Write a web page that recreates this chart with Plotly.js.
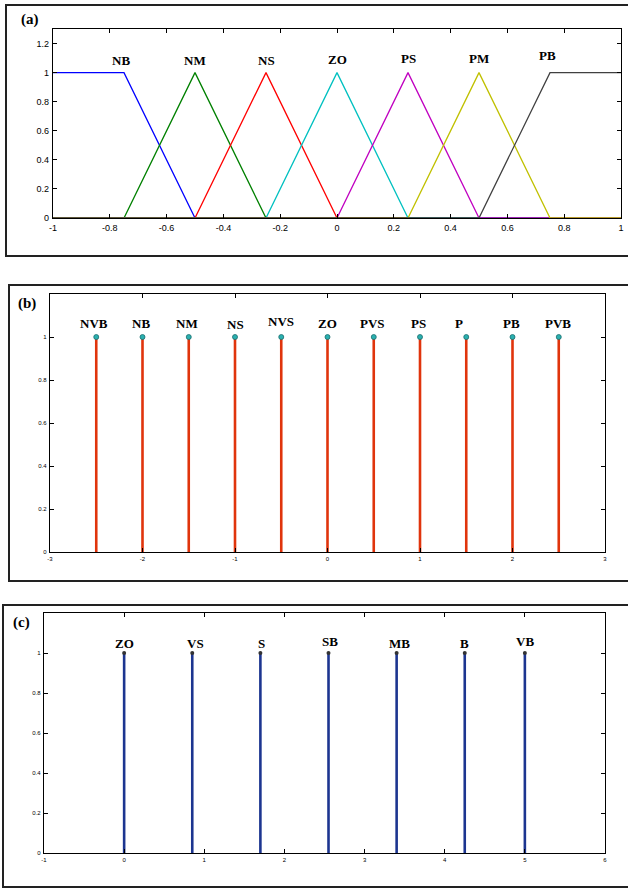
<!DOCTYPE html>
<html>
<head>
<meta charset="utf-8">
<script src="https://cdn.plot.ly/plotly-3.0.1.min.js"></script>
<style>html,body{margin:0;padding:0;background:#fff;}#chart{width:628px;height:889px;}</style>
</head>
<body>
<div id="chart"></div>
<script>
// ---------- Panel (a): membership functions ----------
const mfNames = ['NB','NM','NS','ZO','PS','PM','PB'];
const mfX = [
  [-1,-0.75,-0.5,1],
  [-1,-0.75,-0.5,-0.25,1],
  [-1,-0.5,-0.25,0,1],
  [-1,-0.25,0,0.25,1],
  [-1,0,0.25,0.5,1],
  [-1,0.25,0.5,0.75,1],
  [-1,0.5,0.75,1]
];
const mfY = [
  [1,1,0,0],
  [0,0,1,0,0],
  [0,0,1,0,0],
  [0,0,1,0,0],
  [0,0,1,0,0],
  [0,0,1,0,0],
  [0,0,1,1]
];
const mfColors = ['#0000ff','#008000','#ff0000','#00c0c0','#c000c0','#c0c000','#404040'];
const mfLabelX = [-0.76,-0.5,-0.25,0,0.25,0.5,0.74];
const mfLabelY = [1.08,1.08,1.08,1.09,1.10,1.10,1.12];
const aXTicks = [-1,-0.8,-0.6,-0.4,-0.2,0,0.2,0.4,0.6,0.8,1];
const aYTicks = [0,0.2,0.4,0.6,0.8,1,1.2];

// ---------- Panel (b): singletons ----------
const bNames = ['NVB','NB','NM','NS','NVS','ZO','PVS','PS','P','PB','PVB'];
const bX = [-2.5,-2,-1.5,-1,-0.5,0,0.5,1,1.5,2,2.5];
const bY = [1,1,1,1,1,1,1,1,1,1,1];
const bLabelX = [-2.52,-2.02,-1.52,-1.0,-0.5,0,0.49,0.98,1.42,1.99,2.49];
const bLabelY = [1.065,1.065,1.065,1.06,1.07,1.065,1.065,1.065,1.065,1.065,1.065];
const bXTicks = [-3,-2,-1,0,1,2,3];
const bYTicks = [0,0.2,0.4,0.6,0.8,1];

// ---------- Panel (c): singletons ----------
const cNames = ['ZO','VS','S','SB','MB','B','VB'];
const cX = [0,0.85,1.7,2.55,3.4,4.25,5];
const cY = [1,1,1,1,1,1,1];
const cLabelX = [0.01,0.89,1.71,2.57,3.44,4.25,5.0];
const cLabelY = [1.05,1.05,1.05,1.06,1.05,1.05,1.06];
const cXTicks = [-1,0,1,2,3,4,5,6];
const cYTicks = [0,0.2,0.4,0.6,0.8,1];

const W = 628, H = 889;
const px = v => v / W;
const py = v => 1 - v / H;

function stems(xs, ys) {
  const x = [], y = [];
  xs.forEach((v, i) => { x.push(v, v, null); y.push(0, ys[i], null); });
  return {x, y};
}

const traces = [];
mfNames.forEach((n, i) => {
  traces.push({type:'scatter', mode:'lines', x: mfX[i], y: mfY[i], name: n,
    line:{color: mfColors[i], width:1.3}, xaxis:'x', yaxis:'y', hoverinfo:'skip'});
});
const sb = stems(bX, bY);
traces.push({type:'scatter', mode:'lines', x: sb.x, y: sb.y, line:{color:'#e0340c', width:2.6},
  xaxis:'x2', yaxis:'y2', hoverinfo:'skip'});
traces.push({type:'scatter', mode:'markers', x: bX, y: bY,
  marker:{color:'#2ab0b0', size:5, line:{color:'#1a6f6f', width:0.8}}, xaxis:'x2', yaxis:'y2', hoverinfo:'skip'});
const sc = stems(cX, cY);
traces.push({type:'scatter', mode:'lines', x: sc.x, y: sc.y, line:{color:'#1c3590', width:2.6},
  xaxis:'x3', yaxis:'y3', hoverinfo:'skip'});
traces.push({type:'scatter', mode:'markers', x: cX, y: cY,
  marker:{color:'#333', size:4, symbol:'circle'}, xaxis:'x3', yaxis:'y3', hoverinfo:'skip'});

const tickFontA = {family:'Liberation Sans, Arial, sans-serif', size:9, color:'#000'};
const tickFontS = {family:'Liberation Sans, Arial, sans-serif', size:6, color:'#000'};
function ax(domain, range, ticks, font, anchor, fmt) {
  return {domain, range, tickmode:'array', tickvals: ticks, ticktext: ticks.map(fmt || String),
    showline:true, linecolor:'#000', linewidth:1.2, mirror:'ticks', ticks:'inside', ticklen:4,
    tickcolor:'#000', tickwidth:1, showgrid:false, zeroline:false, tickfont: font, anchor,
    fixedrange:true, ticklabelstandoff:1};
}

const labelFont = {family:'Liberation Serif, Times New Roman, serif', size:13, color:'#000', weight:'bold'};
const annotations = [];
mfNames.forEach((n, i) => annotations.push({x: mfLabelX[i], y: mfLabelY[i], xref:'x', yref:'y', text:'<b>'+n+'</b>',
  showarrow:false, font: labelFont, xanchor:'center', yanchor:'middle'}));
bNames.forEach((n, i) => annotations.push({x: bLabelX[i], y: bLabelY[i], xref:'x2', yref:'y2', text:'<b>'+n+'</b>',
  showarrow:false, font: labelFont, xanchor:'center', yanchor:'middle'}));
cNames.forEach((n, i) => annotations.push({x: cLabelX[i], y: cLabelY[i], xref:'x3', yref:'y3', text:'<b>'+n+'</b>',
  showarrow:false, font: labelFont, xanchor:'center', yanchor:'middle'}));
const panelFont = {family:'Liberation Serif, Times New Roman, serif', size:15, color:'#000', weight:'bold'};
[['(a)',30,20],['(b)',27,303],['(c)',21,622]].forEach(p => annotations.push({
  x: px(p[1]), y: py(p[2]), xref:'paper', yref:'paper', text:'<b>'+p[0]+'</b>', showarrow:false,
  font: panelFont, xanchor:'center', yanchor:'middle'}));

const boxes = [[6,5,256,'#222'],[9,285,581,'#222'],[3,605,887,'#222']].map(b => ({
  type:'rect', xref:'paper', yref:'paper', x0: px(b[0]), x1: px(640), y0: py(b[2]), y1: py(b[1]),
  line:{color:b[3], width:2}, fillcolor:'rgba(0,0,0,0)', layer:'below'}));

const layout = {
  width: W, height: H, margin:{l:0,r:0,t:0,b:0}, paper_bgcolor:'#fff', plot_bgcolor:'#fff',
  showlegend:false,
  xaxis:  ax([px(53), px(621)], [-1,1], aXTicks, tickFontA, 'y'),
  yaxis:  ax([py(218), py(29)], [0,1.3], aYTicks, tickFontA, 'x'),
  xaxis2: ax([px(50), px(605)], [-3,3], bXTicks, tickFontS, 'y2'),
  yaxis2: ax([py(552), py(294)], [0,1.2], bYTicks, tickFontS, 'x2'),
  xaxis3: ax([px(44), px(605)], [-1,6], cXTicks, tickFontS, 'y3'),
  yaxis3: ax([py(853), py(613)], [0,1.2], cYTicks, tickFontS, 'x3'),
  annotations, shapes: boxes
};
Plotly.newPlot('chart', traces, layout, {staticPlot:true});
</script>
</body>
</html>
